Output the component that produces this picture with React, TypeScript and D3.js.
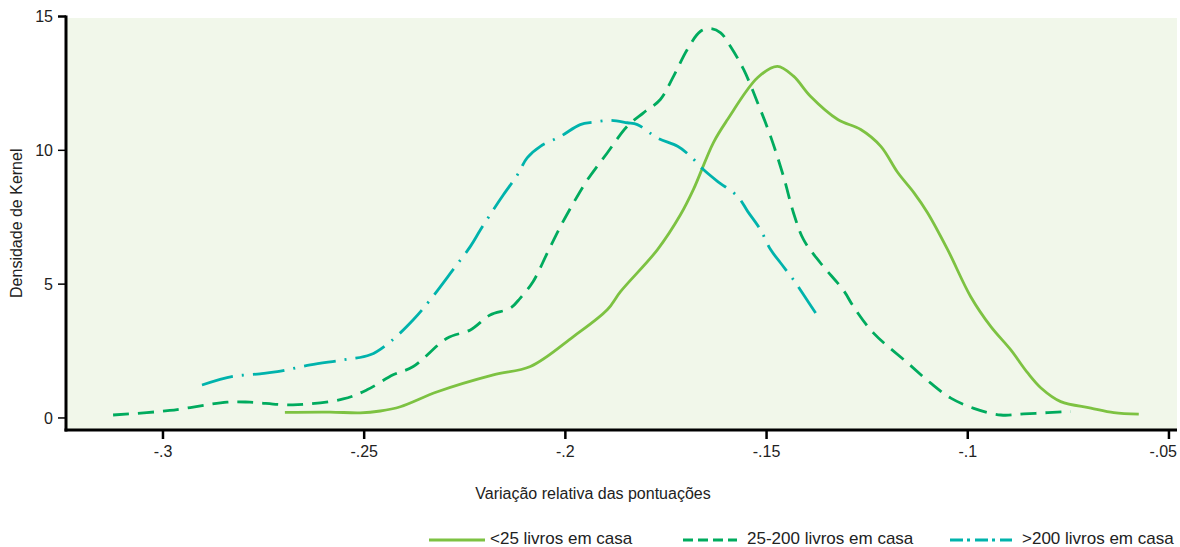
import React from "react";
import * as d3 from "d3";

// x = variação relativa, y = densidade
const lowX = [-0.2697, -0.2585, -0.251, -0.246, -0.241, -0.2318, -0.2179, -0.2087, -0.198, -0.1896, -0.1863, -0.1771, -0.1714, -0.1682, -0.1632, -0.1597, -0.1522, -0.1473, -0.1433, -0.1391, -0.1323, -0.1266, -0.1216, -0.1174, -0.1134, -0.11, -0.105, -0.0993, -0.0943, -0.0893, -0.0851, -0.0818, -0.0769, -0.0694, -0.0637, -0.0575];
const lowY = [0.21, 0.22, 0.19, 0.26, 0.42, 0.98, 1.61, 1.92, 3.04, 4.04, 4.72, 6.29, 7.59, 8.53, 10.29, 11.15, 12.72, 13.14, 12.77, 12.02, 11.15, 10.78, 10.15, 9.17, 8.42, 7.67, 6.29, 4.54, 3.42, 2.54, 1.68, 1.12, 0.61, 0.37, 0.2, 0.14];

const midX = [-0.3124, -0.2983, -0.2841, -0.2784, -0.2677, -0.2552, -0.2493, -0.2428, -0.2378, -0.2294, -0.2236, -0.2187, -0.2137, -0.2112, -0.208, -0.2045, -0.2012, -0.198, -0.1945, -0.1896, -0.1846, -0.1806, -0.1764, -0.1731, -0.1697, -0.1664, -0.1639, -0.1614, -0.159, -0.1557, -0.1522, -0.149, -0.1458, -0.1433, -0.1408, -0.1366, -0.1308, -0.1284, -0.1234, -0.1149, -0.1092, -0.1042, -0.0985, -0.0918, -0.0861, -0.0801, -0.0744];
const midY = [0.11, 0.28, 0.59, 0.59, 0.49, 0.71, 1.05, 1.61, 1.92, 2.98, 3.29, 3.85, 4.1, 4.48, 5.1, 6.16, 7.16, 8.03, 8.9, 9.9, 10.9, 11.4, 11.9, 12.77, 13.77, 14.45, 14.55, 14.39, 13.89, 13.02, 11.77, 10.52, 9.03, 7.66, 6.66, 5.79, 4.75, 4.16, 3.17, 2.05, 1.3, 0.74, 0.36, 0.11, 0.15, 0.2, 0.24];

const highX = [-0.2903, -0.2826, -0.2759, -0.2716, -0.2634, -0.2552, -0.2485, -0.2435, -0.2378, -0.2336, -0.2279, -0.2236, -0.2211, -0.2179, -0.2154, -0.2119, -0.2095, -0.2062, -0.2012, -0.1963, -0.193, -0.1888, -0.1846, -0.1821, -0.1771, -0.1721, -0.1689, -0.1657, -0.1622, -0.1572, -0.1547, -0.1515, -0.149, -0.1465, -0.1433, -0.1408, -0.1378];
const highY = [1.23, 1.55, 1.65, 1.73, 1.98, 2.17, 2.36, 2.85, 3.67, 4.41, 5.54, 6.41, 7.03, 7.78, 8.34, 9.09, 9.72, 10.15, 10.52, 10.96, 11.05, 11.12, 11.03, 10.96, 10.46, 10.15, 9.78, 9.28, 8.84, 8.28, 7.72, 7.03, 6.29, 5.79, 5.16, 4.6, 3.92];

const xTicks = [-0.3, -0.25, -0.2, -0.15, -0.1, -0.05];
const xTickLabels = ["-.3", "-.25", "-.2", "-.15", "-.1", "-.05"];
const yTicks = [0, 5, 10, 15];

const seriesNames = ["<25 livros em casa", "25-200 livros em casa", ">200 livros em casa"];
const seriesColors = ["#7dc242", "#00ab5e", "#00b3ac"];
const seriesDash = ["none", "16,9", "32,9,2,9"];
const legendDash = ["none", "10,5", "13,4,3,5"];

const W = 1180, H = 547;
const L = 66, R = 1177, T = 16.5, B = 430;

export default function App() {
  const x = d3.scaleLinear().domain([-0.3241, -0.048]).range([L, R]);
  const y = d3.scaleLinear().domain([-0.45, 15]).range([B, T]);
  const line = d3
    .line<[number, number]>()
    .x((d) => x(d[0]))
    .y((d) => y(d[1]))
    .curve(d3.curveCatmullRom.alpha(0.5));
  const series = [
    d3.zip(lowX, lowY) as [number, number][],
    d3.zip(midX, midY) as [number, number][],
    d3.zip(highX, highY) as [number, number][],
  ];
  const font = "'Liberation Sans', Arial, sans-serif";
  const legendX = [429, 683, 950];
  const legendLen = [56, 54, 62];
  const legendGap = [5, 10, 10];
  return (
    <svg width={W} height={H} style={{ position: "absolute", left: 0, top: 0 }} fontFamily={font}>
      <rect x={L} y={T + 1.5} width={R - L} height={B - T - 1.5} fill="#f1f7ea" />
      {series.map((s, i) => (
        <path key={i} d={line(s) || ""} fill="none" stroke={seriesColors[i]} strokeWidth={2.8}
          strokeDasharray={seriesDash[i]} strokeLinejoin="round" />
      ))}
      {/* y axis */}
      <line x1={L} x2={L} y1={T - 1} y2={B + 1.5} stroke="#000" strokeWidth={3} />
      {yTicks.map((t) => (
        <g key={t}>
          <line x1={L - 8} x2={L} y1={y(t)} y2={y(t)} stroke="#000" strokeWidth={t === 15 ? 2.5 : 1.5} />
          <text x={L - 13} y={y(t)} dy="0.35em" textAnchor="end" fontSize={16} fill="#222">{t}</text>
        </g>
      ))}
      <text transform={`translate(22,${(T + B) / 2}) rotate(-90)`} textAnchor="middle" fontSize={16} fill="#222">
        Densidade de Kernel
      </text>
      {/* x axis */}
      <line x1={L - 1.5} x2={R} y1={B} y2={B} stroke="#000" strokeWidth={3} />
      {xTicks.map((t, i) => {
        const last = i === xTicks.length - 1;
        return (
          <g key={t}>
            <line x1={x(t)} x2={x(t)} y1={B} y2={B + 9} stroke="#000" strokeWidth={2.5} />
            <text x={last ? R : x(t)} y={B + 27} textAnchor={last ? "end" : "middle"} fontSize={16} fill="#222">
              {xTickLabels[i]}
            </text>
          </g>
        );
      })}
      <text x={593} y={499} textAnchor="middle" fontSize={16} fill="#222">
        Variação relativa das pontuações
      </text>
      {/* legend */}
      {seriesNames.map((n, i) => (
        <g key={n}>
          <line x1={legendX[i]} x2={legendX[i] + legendLen[i]} y1={540} y2={540} stroke={seriesColors[i]}
            strokeWidth={3} strokeDasharray={legendDash[i]} />
          <text x={legendX[i] + legendLen[i] + legendGap[i]} y={544} fontSize={17} fill="#222">{n}</text>
        </g>
      ))}
    </svg>
  );
}
